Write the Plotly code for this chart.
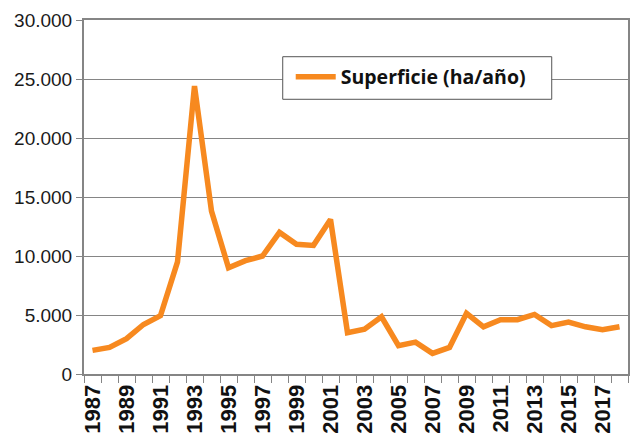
import plotly.graph_objects as go

years = list(range(1987, 2019))
superficie = [2000, 2250, 3000, 4200, 4950, 9500, 24400, 13800, 9000, 9600,
              10000, 12000, 11000, 10900, 13100, 3500, 3800, 4850, 2400, 2700,
              1750, 2250, 5150, 4000, 4600, 4600, 5050, 4100, 4400, 4000,
              3750, 4000]
series_name = "Superficie (ha/año)"
x_tick_years = [y for y in years if y % 2 == 1]
y_ticks = [0, 5000, 10000, 15000, 20000, 25000, 30000]

orange = "#F7891F"
grid = "#858585"

fig = go.Figure()
fig.add_trace(go.Scatter(
    x=years, y=superficie, mode="lines", name=series_name,
    line=dict(color=orange, width=5.5),
))

boundaries = [y - 0.5 for y in years] + [years[-1] + 0.5]

# legend frame (drawn as a shape so its padding matches the reference)
fig.add_shape(type="rect", xref="paper", yref="paper",
              x0=0.3653, x1=0.8598, y0=0.776, y1=0.8963,
              fillcolor="white", line=dict(color="#555555", width=1), layer="above")

fig.update_layout(
    width=632, height=442,
    margin=dict(l=84, r=4, t=20, b=68),
    paper_bgcolor="white", plot_bgcolor="white",
    separators=",.",
    showlegend=True,
    legend=dict(
        x=0.380, y=0.894, xanchor="left", yanchor="top",
        bgcolor="rgba(0,0,0,0)", borderwidth=0,
        font=dict(family="Open Sans, Noto Sans, sans-serif", size=19.5, color="#111111", weight="bold"),
        itemwidth=40,
    ),
    xaxis=dict(
        range=[years[0] - 0.5, years[-1] + 0.5],
        tickvals=x_tick_years,
        ticktext=[str(y) for y in x_tick_years],
        tickangle=-90,
        ticks="",
        tickfont=dict(family="Liberation Sans Narrow, Liberation Sans, sans-serif", size=22, color="#111111", weight="bold"),
        showgrid=False,
        showline=True, linecolor=grid, linewidth=2, mirror=True,
        minor=dict(tickvals=boundaries, ticks="outside", ticklen=7, tickcolor=grid, tickwidth=1, showgrid=False),
        zeroline=False,
        automargin=False,
    ),
    yaxis=dict(
        range=[0, 30000],
        tickvals=y_ticks,
        tickformat=",d",
        ticks="outside", ticklen=6, tickcolor=grid, tickwidth=1,
        tickfont=dict(family="Liberation Sans, Arial, sans-serif", size=19, color="#1a1a1a"),
        showgrid=True, gridcolor=grid, gridwidth=1,
        showline=True, linecolor=grid, linewidth=2, mirror=True,
        zeroline=False,
        automargin=False,
    ),
)

fig.write_html("out.html", config={"displayModeBar": False},
               post_script="document.body.style.margin='0';document.body.style.overflow='hidden';")
